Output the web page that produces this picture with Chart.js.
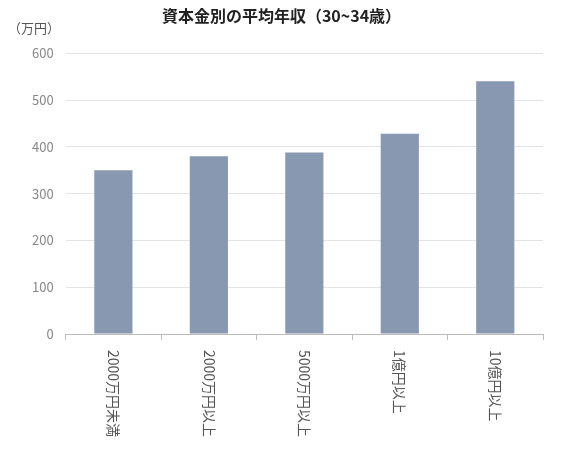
<!DOCTYPE html>
<html><head><meta charset="utf-8">
<script src="https://cdn.jsdelivr.net/npm/chart.js@4"></script>
<style>body{margin:0;background:#fff}#w{width:573px;height:450px}</style>
</head><body><div id="w"><canvas id="c"></canvas></div>
<script>
const categories = ["2000万円未満","2000万円以上","5000万円以上","1億円以上","10億円以上"];
const values = [350, 380, 388, 428, 540];
const yTicks = [0,100,200,300,400,500,600];
const FONT = "'Noto Sans CJK JP','Noto Sans',sans-serif";

const vertLabels = {
  id: 'vertLabels',
  afterDraw(chart) {
    const x = chart.scales.x, ctx = chart.ctx;
    ctx.save();
    ctx.font = "14px " + FONT;
    ctx.fillStyle = "#555";
    ctx.textBaseline = "middle";
    ctx.textAlign = "left";
    categories.forEach((c, i) => {
      const px = x.getPixelForValue(i);
      ctx.save();
      ctx.translate(px, x.bottom + 10);
      ctx.rotate(Math.PI / 2);
      ctx.fillText(c, 0, 0);
      ctx.restore();
    });
    ctx.font = "13px " + FONT;
    ctx.fillText("（万円）", 8, 28);
    ctx.restore();
  }
};

new Chart(document.getElementById('c'), {
  type: 'bar',
  data: { labels: categories, datasets: [{ data: values, backgroundColor: '#8798B0', barPercentage: 0.4, categoryPercentage: 1 }] },
  options: {
    responsive: true, maintainAspectRatio: false, animation: false,
    layout: { padding: { left: 20, right: 30, top: 0, bottom: 110 } },
    plugins: {
      legend: { display: false }, tooltip: { enabled: false },
      title: { display: true, text: '資本金別の平均年収（30~34歳）', color: '#222',
        font: { family: FONT, size: 16, weight: 'bold' }, padding: { top: 6, bottom: 28 } }
    },
    scales: {
      x: {
        grid: { display: true, drawOnChartArea: false, offset: true, tickLength: 6, color: '#bbb' },
        border: { color: '#bbb' },
        ticks: { display: false }
      },
      y: {
        min: 0, max: 600,
        afterBuildTicks: s => { s.ticks = yTicks.map(v => ({ value: v })); },
        grid: { color: '#e3e3e3', drawTicks: false },
        border: { display: false },
        ticks: { color: '#888', padding: 12, font: { family: FONT, size: 13 } }
      }
    }
  },
  plugins: [vertLabels]
});
</script></body></html>
